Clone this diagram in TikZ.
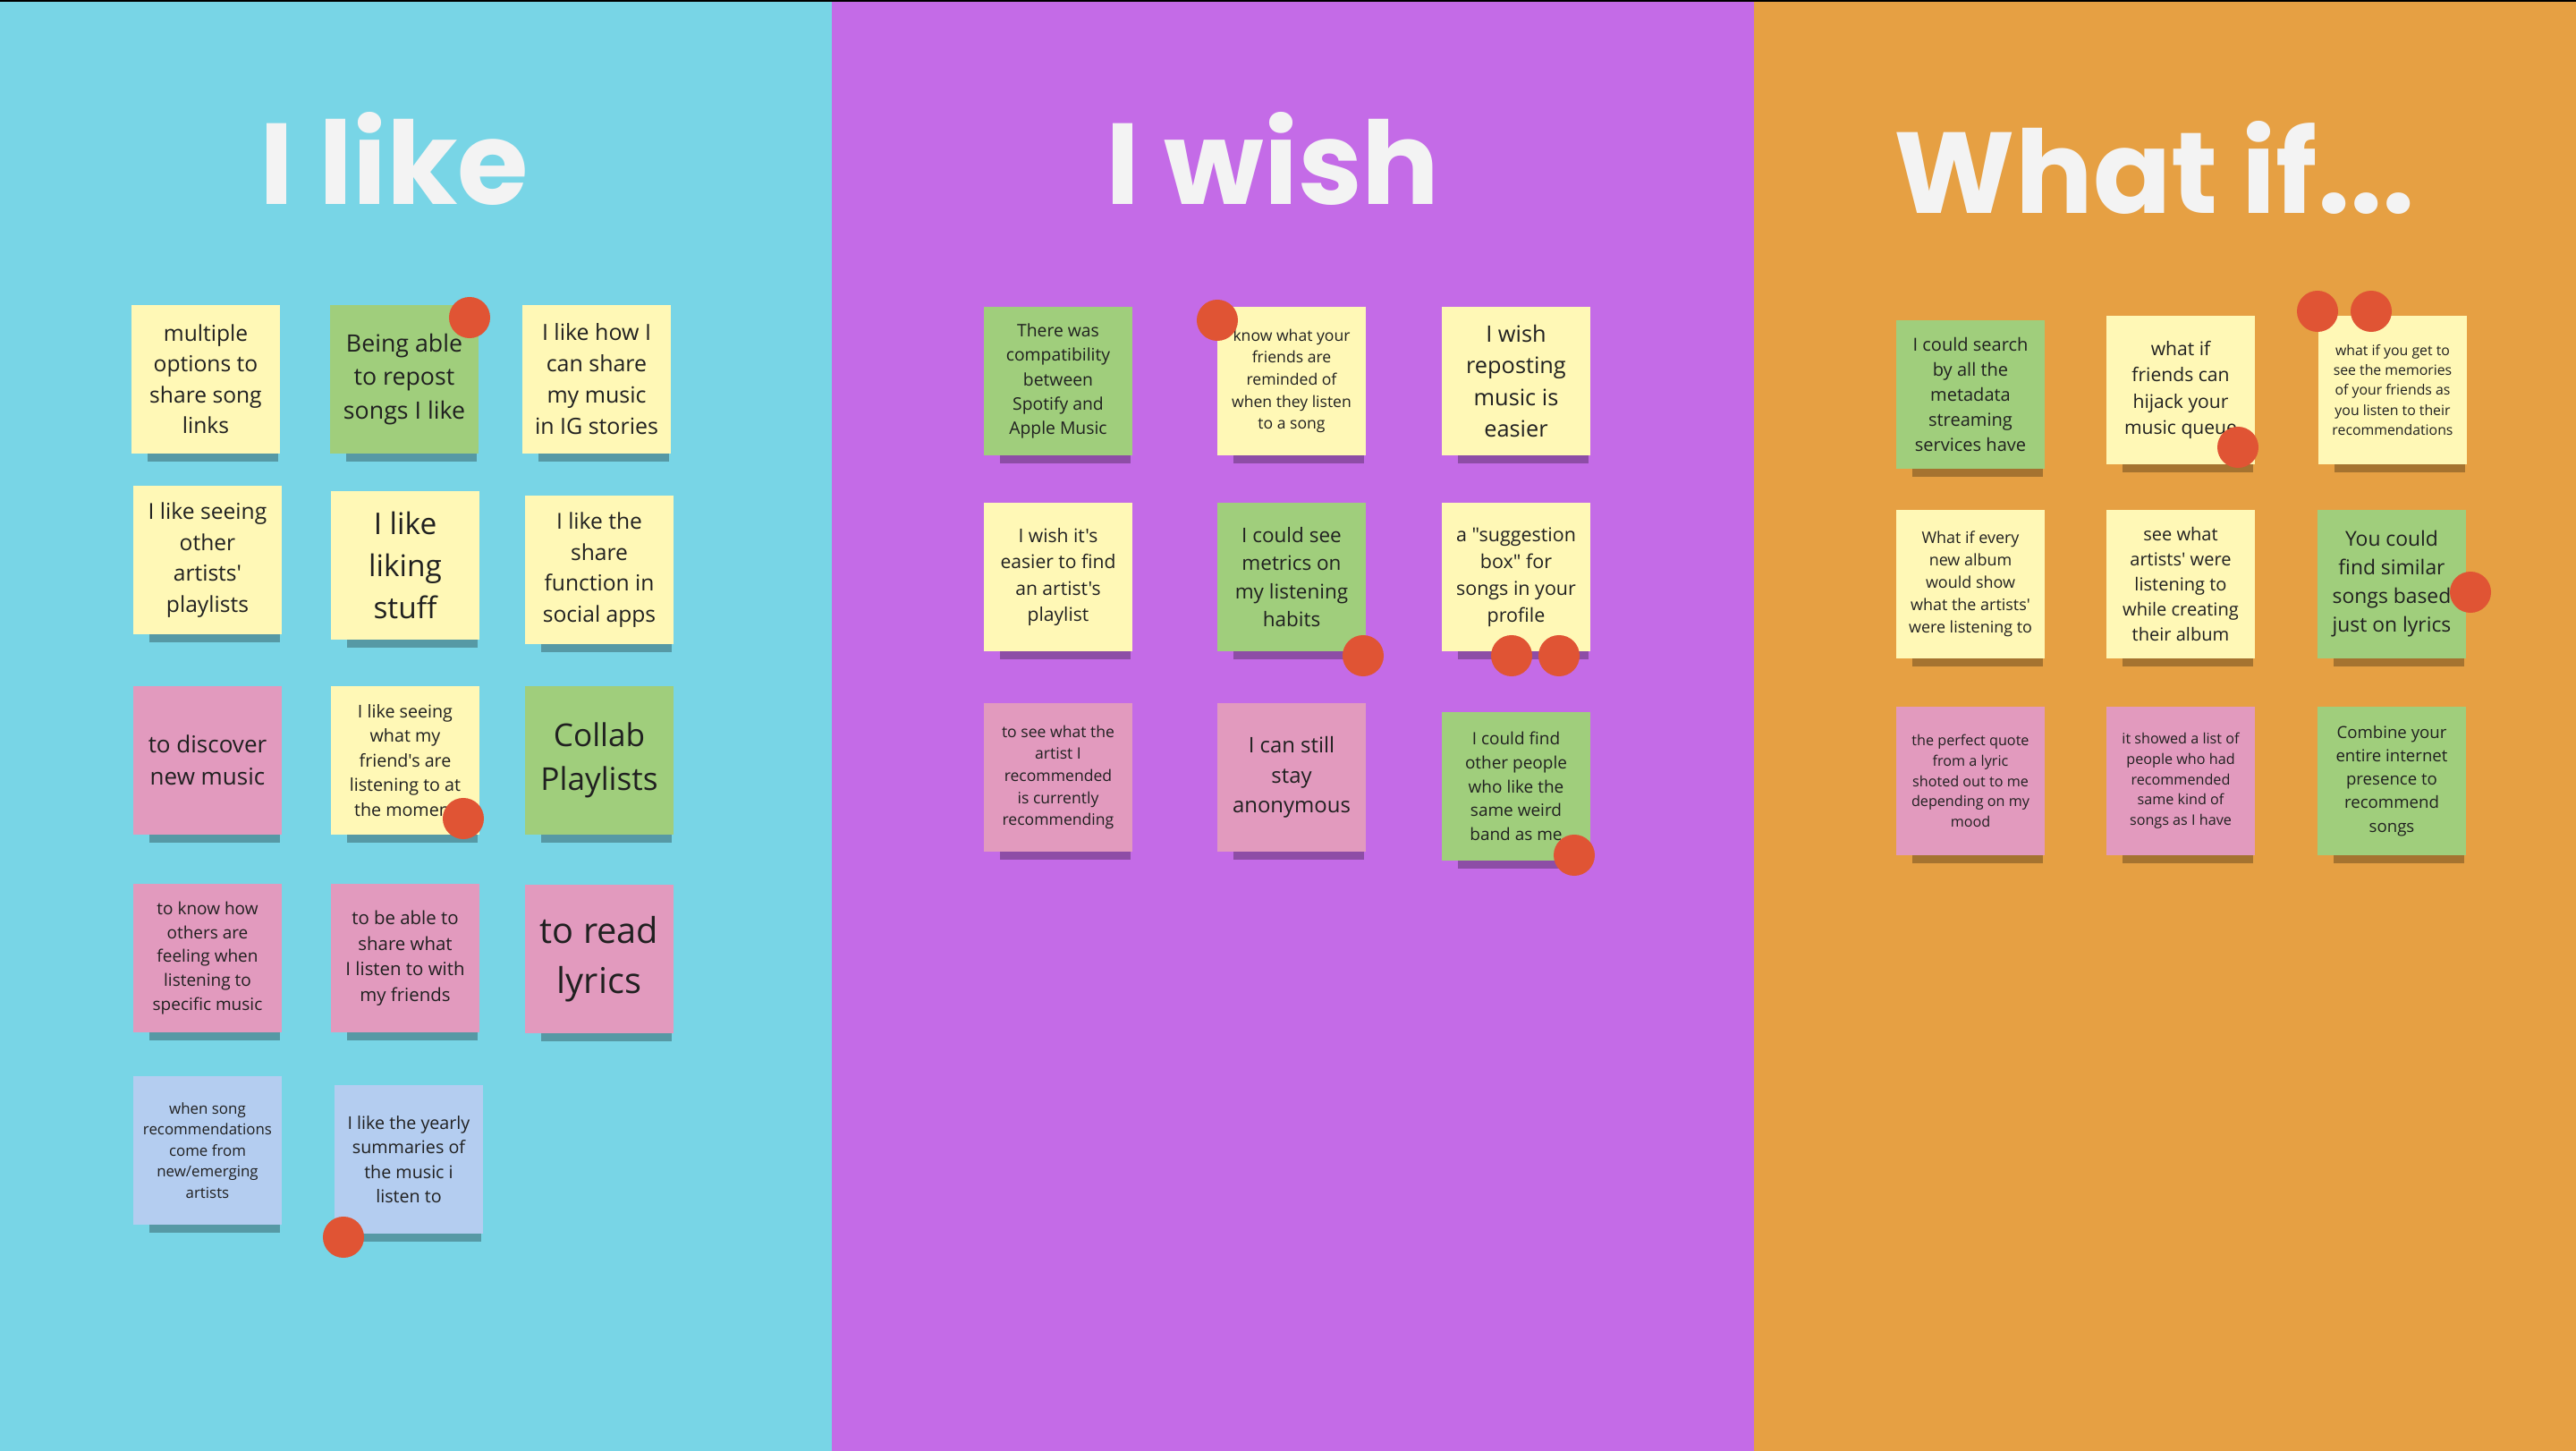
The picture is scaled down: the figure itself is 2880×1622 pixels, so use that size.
\documentclass[tikz,border=0pt]{standalone}
\usepackage{fontspec}
\setmainfont{Open Sans}
\newfontfamily\notefamily{Open Sans}
\newfontfamily\headfont{Poppins}
\usetikzlibrary{shadows}

\definecolor{likebg}{RGB}{120,213,230}
\definecolor{wishbg}{RGB}{196,107,231}
\definecolor{whatifbg}{RGB}{230,160,67}
\definecolor{noteyellow}{RGB}{255,248,182}
\definecolor{notegreen}{RGB}{160,206,124}
\definecolor{notepink}{RGB}{226,154,190}
\definecolor{noteblue}{RGB}{180,205,240}
\definecolor{notetext}{RGB}{32,32,32}
\definecolor{votered}{RGB}{224,84,52}
\definecolor{titlewhite}{RGB}{243,243,243}

\newcommand{\notefont}[1]{\pgfmathsetmacro\noteskip{#1*1.4}\notefamily\fontsize{#1}{\noteskip}\selectfont}

\tikzset{
  note/.style={minimum width=1.66cm, minimum height=1.66cm, inner sep=0pt,
    align=center, text=notetext,
    drop shadow={shadow scale=0.88, shadow yshift=-0.22cm, fill=black, opacity=0.28}},
  fs/.style={font=\notefont{#1}},
  title/.style={font=\headfont\bfseries\fontsize{36.6}{40}\selectfont,
    text=titlewhite, anchor=base},
  vote/.style={fill=votered}
}

\begin{document}
\begin{tikzpicture}[x=0.01cm, y=-0.01cm]
\useasboundingbox (0,0) rectangle (2880,1622);
% Board columns
\fill[likebg] (0,0) rectangle (930,1622);
\fill[wishbg] (930,0) rectangle (1961,1622);
\fill[whatifbg] (1961,0) rectangle (2880,1622);
\fill[black] (0,0) rectangle (2880,2);

% Column titles
\node[title] (liketitle) at (441,229) {I like};
\node[title] (wishtitle) at (1423,229) {I wish};
\node[title] (whatiftitle) at (2409,239) {What if...};

% I like
\node[note, fill=noteyellow, fs=7] (like1) at (230,424) {multiple\\options to\\share song\\links};
\node[note, fill=notegreen, fs=7.6] (like2) at (452,424) {Being able\\to repost\\songs I like};
\node[note, fill=noteyellow, fs=7.1] (like3) at (667,424) {I like how I\\can share\\my music\\in IG stories};
\node[note, fill=noteyellow, fs=7] (like4) at (232,626) {I like seeing\\other\\artists'\\playlists};
\node[note, fill=noteyellow, fs=9.5] (like5) at (453,632) {I like\\liking\\stuff};
\node[note, fill=noteyellow, fs=7] (like6) at (670,637) {I like the\\share\\function in\\social apps};
\node[note, fill=notepink, fs=7.4] (like7) at (232,850) {to discover\\new music};
\node[note, fill=noteyellow, fs=5.6] (like8) at (453,850) {I like seeing\\what my\\friend's are\\listening to at\\the moment};
\node[note, fill=notegreen, fs=10] (like9) at (670,850) {Collab\\Playlists};
\node[note, fill=notepink, fs=5.4] (like10) at (232,1071) {to know how\\others are\\feeling when\\listening to\\specific music};
\node[note, fill=notepink, fs=5.8] (like11) at (453,1071) {to be able to\\share what\\I listen to with\\my friends};
\node[note, fill=notepink, fs=11.3] (like12) at (670,1072) {to read\\lyrics};
\node[note, fill=noteblue, fs=4.8] (like13) at (232,1286) {when song\\recommendations\\come from\\new/emerging\\artists};
\node[note, fill=noteblue, fs=5.6] (like14) at (457,1296) {I like the yearly\\summaries of\\the music i\\listen to};

% I wish
\node[note, fill=notegreen, fs=5.5] (wish1) at (1183,426) {There was\\compatibility\\between\\Spotify and\\Apple Music};
\node[note, fill=noteyellow, fs=5] (wish2) at (1444,426) {know what your\\friends are\\reminded of\\when they listen\\to a song};
\node[note, fill=noteyellow, fs=7.2] (wish3) at (1695,426) {I wish\\reposting\\music is\\easier};
\node[note, fill=noteyellow, fs=6] (wish4) at (1183,645) {I wish it's\\easier to find\\an artist's\\playlist};
\node[note, fill=notegreen, fs=6.4] (wish5) at (1444,645) {I could see\\metrics on\\my listening\\habits};
\node[note, fill=noteyellow, fs=6.1] (wish6) at (1695,645) {a "suggestion\\box" for\\songs in your\\profile};
\node[note, fill=notepink, fs=5] (wish7) at (1183,869) {to see what the\\artist I\\recommended\\is currently\\recommending};
\node[note, fill=notepink, fs=6.8] (wish8) at (1444,869) {I can still\\stay\\anonymous};
\node[note, fill=notegreen, fs=5.4] (wish9) at (1695,879) {I could find\\other people\\who like the\\same weird\\band as me};

% What if...
\node[note, fill=notegreen, fs=5.7] (whatif1) at (2203,441) {I could search\\by all the\\metadata\\streaming\\services have};
\node[note, fill=noteyellow, fs=6] (whatif2) at (2438,436) {what if\\friends can\\hijack your\\music queue};
\node[note, fill=noteyellow, fs=4.5] (whatif3) at (2675,436) {what if you get to\\see the memories\\of your friends as\\you listen to their\\recommendations};
\node[note, fill=noteyellow, fs=5.1] (whatif4) at (2203,653) {What if every\\new album\\would show\\what the artists'\\were listening to};
\node[note, fill=noteyellow, fs=5.7] (whatif5) at (2438,653) {see what\\artists' were\\listening to\\while creating\\their album};
\node[note, fill=notegreen, fs=6.5] (whatif6) at (2674,653) {You could\\find similar\\songs based\\just on lyrics};
\node[note, fill=notepink, fs=4.6] (whatif7) at (2203,873) {the perfect quote\\from a lyric\\shoted out to me\\depending on my\\mood};
\node[note, fill=notepink, fs=4.6] (whatif8) at (2438,873) {it showed a list of\\people who had\\recommended\\same kind of\\songs as I have};
\node[note, fill=notegreen, fs=5.3] (whatif9) at (2674,873) {Combine your\\entire internet\\presence to\\recommend\\songs};

% Votes (dots)
\foreach \x/\y in {525/355, 518/915, 384/1383, 1361/358, 1524/733, 1690/733, 1743/733,
                   1760/956, 2502/500, 2591/348, 2651/348, 2762/662}
  \fill[vote] (\x,\y) circle (0.23cm);
\end{tikzpicture}
\end{document}
